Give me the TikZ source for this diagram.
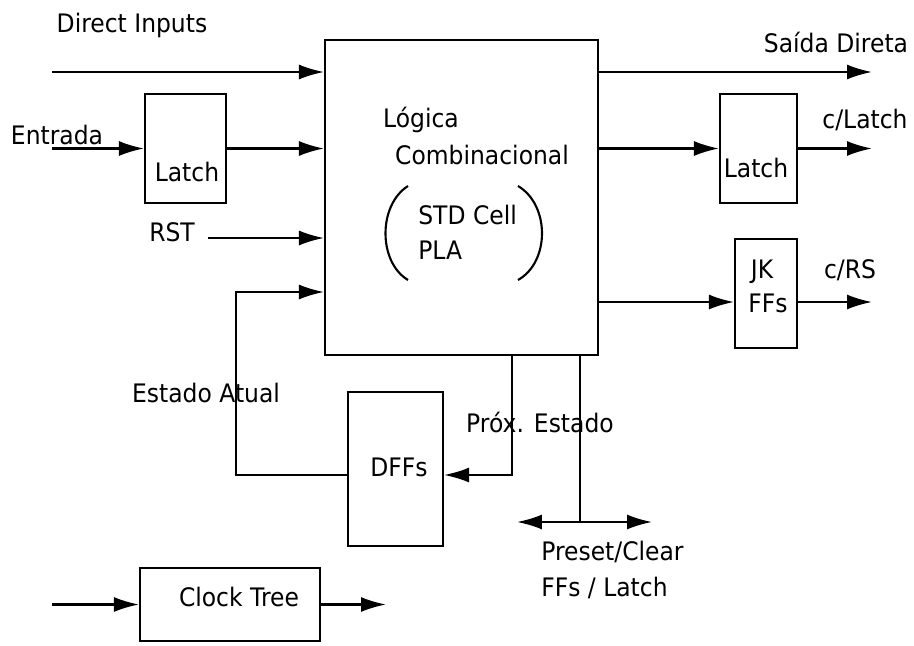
\documentclass[tikz,border=0pt]{standalone}
\usepackage{fontspec}
\setmainfont{DejaVu Sans}[FakeStretch=0.92]
\usetikzlibrary{arrows.meta, calc}
\tikzset{
  blkbox/.style  = {draw, line width=1.2pt, inner sep=0pt},
  sigline/.style = {line width=1.2pt},
  sigarr/.style  = {sigline, -{Latex[length=5mm, width=3mm]}},
  sigboth/.style = {sigline, {Latex[length=5mm, width=3mm]}-{Latex[length=5mm, width=3mm]}},
  lbl/.style     = {font=\fontsize{14.5}{17}\selectfont, inner sep=0pt},
}

\begin{document}
\begin{tikzpicture}[x=0.02cm, y=-0.02cm]
  \useasboundingbox (0,0) rectangle (914,646);
  % blocks
  \node[blkbox, minimum width=5.46cm, minimum height=6.3cm] (logic) at (461.5,197.5) {};
  \node[blkbox, minimum width=1.62cm, minimum height=2.18cm] (latin) at (185.5,148.5) {};
  \node[blkbox, minimum width=1.54cm, minimum height=2.18cm] (latout) at (758.5,148.5) {};
  \node[blkbox, minimum width=1.24cm, minimum height=2.18cm] (jkff) at (766,293.5) {};
  \node[blkbox, minimum width=1.9cm, minimum height=3.08cm] (dff) at (395.5,469) {};
  \node[blkbox, minimum width=3.6cm, minimum height=1.46cm] (clk) at (230,604.5) {};
  % texts
  \node[lbl] (tdir) at (132,25) {Direct Inputs};
  \node[lbl] (tent) at (57,135) {Entrada};
  \node[lbl] (tlatin) at (187,172) {Latch};
  \node[lbl] (trst) at (172,232) {RST};
  \node[lbl] (tlog) at (421,120) {Lógica};
  \node[lbl] (tcomb) at (482,155) {Combinacional};
  \node[lbl, anchor=west] (tstd) at (418,215) {STD Cell};
  \node[lbl, anchor=west] (tpla) at (418,250) {PLA};
  \node[lbl] (tsai) at (836,42) {Saída Direta};
  \node[lbl] (tlatout) at (756,168) {Latch};
  \node[lbl] (tclat) at (865,120) {c/Latch};
  \node[lbl] (tjk) at (762,272) {JK};
  \node[lbl] (tjkff) at (768,303) {FFs};
  \node[lbl] (tcrs) at (850,270) {c/RS};
  \node[lbl] (tdff) at (399,467) {DFFs};
  \node[lbl] (tatual) at (206,393) {Estado Atual};
  \node[lbl] (tprox) at (540,422) {Próx. Estado};
  \node[lbl, anchor=west] (tpre) at (541,552) {Preset/Clear};
  \node[lbl, anchor=west] (tffl) at (541,588) {FFs / Latch};
  \node[lbl] (tclk) at (239,597) {Clock Tree};
  % free ends and bends
  \coordinate (pdir) at (52,72);
  \coordinate (pent) at (52,148.5);
  \coordinate (prst) at (208,238);
  \coordinate (pfb) at (236,292);
  \coordinate (pq) at (236,475);
  \coordinate (pnx) at (512,475);
  \coordinate (ppc) at (580,522);
  \coordinate (ppcl) at (517,522);
  \coordinate (ppcr) at (652,522);
  \coordinate (psai) at (872,72);
  \coordinate (pclat) at (872,148.5);
  \coordinate (pjk) at (872,302);
  \coordinate (pckin) at (52,604.5);
  \coordinate (pckout) at (386,604.5);
  % inputs
  \draw[sigarr] (pdir) -- (pdir -| logic.west);
  \draw[sigarr] (pent) -- (latin.west);
  \draw[sigarr] (latin.east) -- (latin.east -| logic.west);
  \draw[sigarr] (prst) -- (prst -| logic.west);
  \draw[sigarr] (dff.west |- pq) -- (pq) -- (pfb) -- (pfb -| logic.west);
  % state and preset/clear
  \draw[sigarr] (pnx |- logic.south) -- (pnx) -- (pnx -| dff.east);
  \draw[sigline] (ppc |- logic.south) -- (ppc);
  \draw[sigboth] (ppcl) -- (ppcr);
  % outputs
  \draw[sigarr] (psai -| logic.east) -- (psai);
  \draw[sigarr] (latout.west -| logic.east) -- (latout.west);
  \draw[sigarr] (latout.east) -- (pclat);
  \draw[sigarr] (pjk -| logic.east) -- (pjk -| jkff.west);
  \draw[sigarr] (pjk -| jkff.east) -- (pjk);
  % clock
  \draw[sigarr] (pckin) -- (clk.west);
  \draw[sigarr] (clk.east) -- (pckout);
  % brackets round STD Cell / PLA
  \draw[sigline] (408,186) .. controls (378,205) and (378,262) .. (408,280);
  \draw[sigline] (518,186) .. controls (550,205) and (550,262) .. (518,280);
\end{tikzpicture}
\end{document}
